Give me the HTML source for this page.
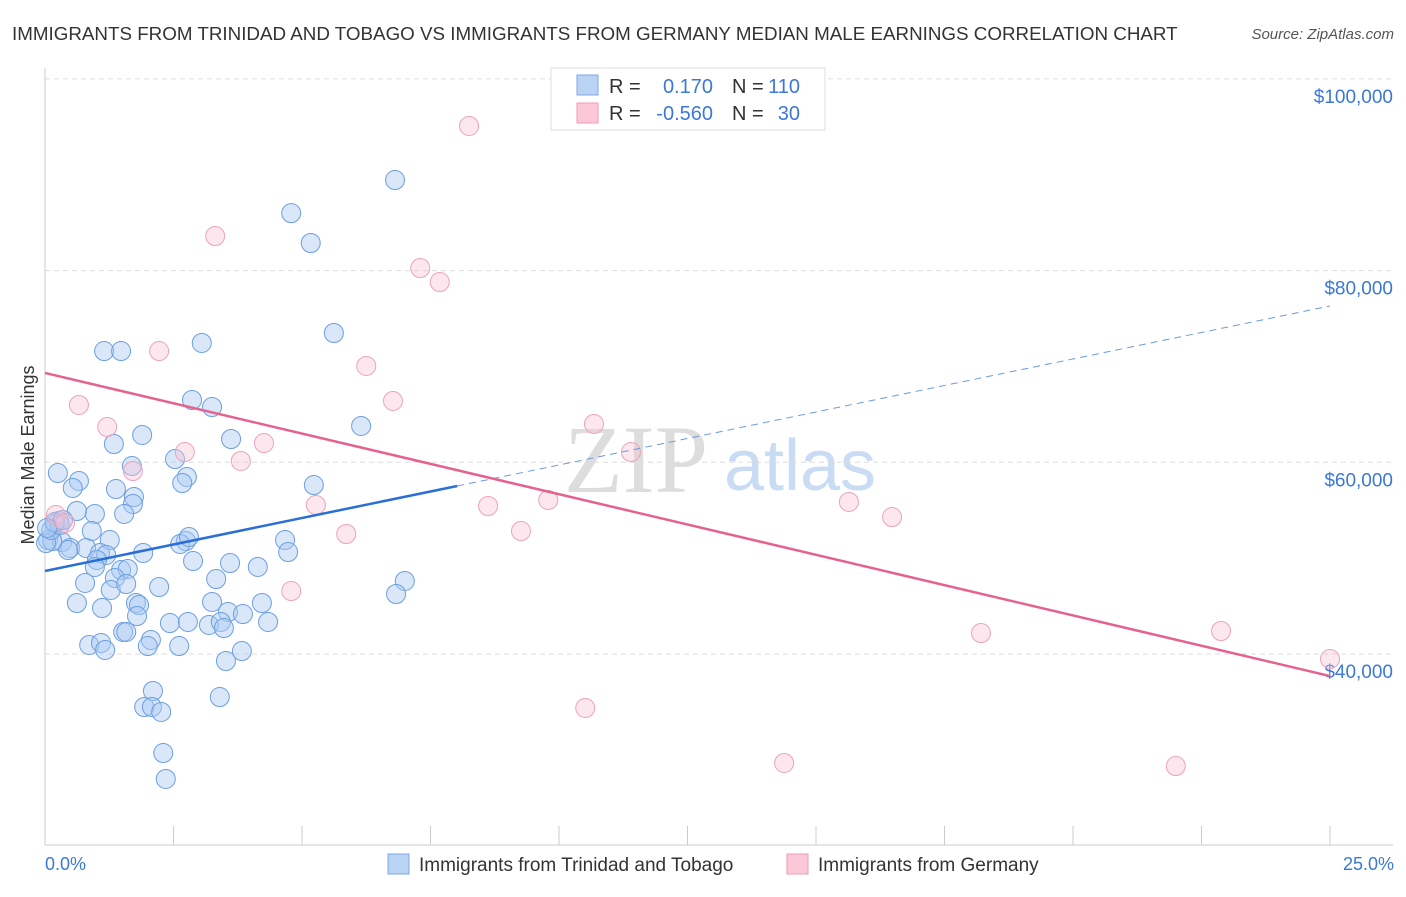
<!DOCTYPE html>
<html><head><meta charset="utf-8"><style>
body{margin:0;background:#fff;font-family:"Liberation Sans",sans-serif;}
</style></head><body>
<svg id="chart" width="1406" height="892" xmlns="http://www.w3.org/2000/svg">
<text x="12" y="40" font-size="18.8" fill="#333">IMMIGRANTS FROM TRINIDAD AND TOBAGO VS IMMIGRANTS FROM GERMANY MEDIAN MALE EARNINGS CORRELATION CHART</text>
<text x="1394" y="39" font-size="15" fill="#555" font-style="italic" text-anchor="end">Source: ZipAtlas.com</text>
<text x="636" y="492" font-size="96" fill="#ddd" font-family="Liberation Serif,serif" text-anchor="middle">ZIP</text>
<text x="800" y="490" font-size="72" fill="#c9dcf3" text-anchor="middle">atlas</text>
<g id="grid"></g><g id="axes"></g><g id="pts"></g><g id="trend"></g>
<text transform="translate(34,455) rotate(-90)" font-size="18" fill="#333" text-anchor="middle">Median Male Earnings</text>
<text x="45" y="870" font-size="18" fill="#3b78d8">0.0%</text>
<text x="1394" y="870" font-size="18" fill="#3b78d8" text-anchor="end">25.0%</text>
<g>
<rect x="551" y="68" width="274" height="62" fill="#fff" stroke="#ddd"/>
<rect x="577" y="75" width="21" height="20" fill="#b9d3f5" stroke="#7eaae6"/>
<rect x="577" y="103" width="21" height="20" fill="#fac8d6" stroke="#f09ab4"/>
<text x="609" y="93" font-size="20" fill="#333">R =</text><text x="713" y="93" font-size="20" fill="#3b78d8" text-anchor="end">0.170</text>
<text x="732" y="93" font-size="20" fill="#333">N =</text><text x="800" y="93" font-size="20" fill="#3b78d8" text-anchor="end">110</text>
<text x="609" y="120" font-size="20" fill="#333">R =</text><text x="713" y="120" font-size="20" fill="#3b78d8" text-anchor="end">-0.560</text>
<text x="732" y="120" font-size="20" fill="#333">N =</text><text x="800" y="120" font-size="20" fill="#3b78d8" text-anchor="end">30</text>
</g>
<g>
<rect x="388" y="854" width="21" height="20" fill="#b9d3f5" stroke="#7eaae6"/>
<text x="419" y="871" font-size="19" fill="#333">Immigrants from Trinidad and Tobago</text>
<rect x="787" y="854" width="21" height="20" fill="#fac8d6" stroke="#f09ab4"/>
<text x="818" y="871" font-size="19" fill="#333">Immigrants from Germany</text>
</g>
</svg>
<script>
const blueX=[6.81,4.79,5.17,5.62,1.15,1.48,3.05,2.86,3.25,6.15,1.89,3.62,1.34,0.25,2.53,2.76,2.67,1.69,0.66,0.54,1.73,1.71,1.38,1.54,0.97,0.62,0.91,1.26,0.27,0.19,0.06,0.33,0.49,0.80,0.45,1.07,1.19,1.91,1.01,0.97,1.48,1.61,1.36,0.78,2.74,2.63,2.80,5.23,4.67,4.73,2.88,3.60,3.33,4.14,2.22,1.28,1.58,1.77,1.83,0.62,1.11,1.79,3.25,3.56,3.85,4.22,4.34,2.43,2.78,3.19,3.42,3.48,1.52,1.58,2.06,2.00,2.61,0.86,1.09,1.17,3.83,3.52,2.10,1.93,2.08,2.26,2.30,2.35,3.40,7.00,6.83,0.14,0.02,0.12,0.29,0.19,0.35,0.04];
const blueY=[89.45,85.99,82.88,73.49,71.61,71.61,72.45,66.50,65.77,63.79,62.85,62.43,61.91,58.88,60.34,58.47,57.84,59.61,58.05,57.32,56.38,55.65,57.21,54.61,54.61,54.92,52.83,51.89,53.88,53.56,51.89,51.68,51.06,51.06,50.85,50.54,50.33,50.54,49.81,49.08,48.76,48.87,47.93,47.41,51.79,51.48,52.21,57.63,51.89,50.64,49.70,49.49,47.82,49.08,46.99,46.68,47.30,45.32,45.11,45.32,44.80,43.96,45.43,44.38,44.17,45.32,43.34,43.23,43.34,43.03,43.34,42.71,42.30,42.30,41.46,40.83,40.83,40.94,41.15,40.42,40.31,39.27,36.14,34.47,34.47,33.95,29.67,26.96,35.51,47.62,46.26,51.79,51.58,52.94,53.46,53.77,53.98,53.15];
const pinkX=[8.25,3.31,7.30,7.68,2.22,6.25,6.77,0.66,1.21,4.26,2.72,3.81,1.71,10.68,11.40,8.62,9.79,5.27,9.26,5.86,15.64,16.48,4.79,18.21,22.88,25.0,10.51,14.38,22.00,0.21,0.39];
const pinkY=[95.09,83.61,80.27,78.81,71.61,70.05,66.40,65.98,63.68,62.01,61.07,60.14,59.09,64.00,61.07,55.44,56.07,55.55,52.83,52.52,55.86,54.29,46.57,42.19,42.40,39.48,34.37,28.63,28.31,54.50,53.67];
const yTicks=[100,80,60,40];
const yTickLabels=["$100,000","$80,000","$60,000","$40,000"];
const blueTrend=[48.66,76.31], blueSolidEnd=8.02;
const pinkTrend=[69.32,37.70];
const NS="http://www.w3.org/2000/svg";
function sx(p){return 45+p/25*1285;}
function sy(v){return 654-(v-40)*9.585;}
function mk(parent,tag,attrs){const e=document.createElementNS(NS,tag);for(const k in attrs)e.setAttribute(k,attrs[k]);document.getElementById(parent).appendChild(e);return e;}
yTicks.forEach((t,i)=>{
 const l=mk('grid','line',{x1:45,x2:1393,y1:sy(t),y2:sy(t),stroke:'#ddd','stroke-dasharray':'5,4'});
 
 
 const tx=mk('grid','text',{x:1393,y:sy(t)+24,'font-size':19,fill:'#3b78d8','text-anchor':'end'});
 tx.textContent=yTickLabels[i];
 
 
});
let a=mk('axes','line',{x1:45,x2:45,y1:68,y2:845,stroke:'#ccc'});


a=mk('axes','line',{x1:45,x2:1393,y1:845,y2:845,stroke:'#ccc'});


for(let i=1;i<=10;i++){
 const t=mk('axes','line',{x1:sx(i*2.5),x2:sx(i*2.5),y1:826,y2:845,stroke:'#ccc'});
 
 
}
blueX.forEach((x,i)=>{
 const c=mk('pts','circle',{cx:sx(x),cy:sy(blueY[i]),r:9.5,fill:'rgba(170,202,242,0.45)',stroke:'#6c9fe2','stroke-width':1});
 
 
});
pinkX.forEach((x,i)=>{
 const c=mk('pts','circle',{cx:sx(x),cy:sy(pinkY[i]),r:9.5,fill:'rgba(248,196,212,0.4)',stroke:'#eda3bb','stroke-width':1});
 
 
});
function by(p){return blueTrend[0]+(blueTrend[1]-blueTrend[0])*p/25;}
let t=mk('trend','line',{x1:sx(0),y1:sy(by(0)),x2:sx(blueSolidEnd),y2:sy(by(blueSolidEnd)),stroke:'#2a6fd6','stroke-width':2.5});


t=mk('trend','line',{x1:sx(blueSolidEnd),y1:sy(by(blueSolidEnd)),x2:sx(25),y2:sy(by(25)),stroke:'#6a9be0','stroke-width':1,'stroke-dasharray':'7,5'});


t=mk('trend','line',{x1:sx(0),y1:sy(pinkTrend[0]),x2:sx(25),y2:sy(pinkTrend[1]),stroke:'#e5628f','stroke-width':2.5});


</script>
</body></html>
